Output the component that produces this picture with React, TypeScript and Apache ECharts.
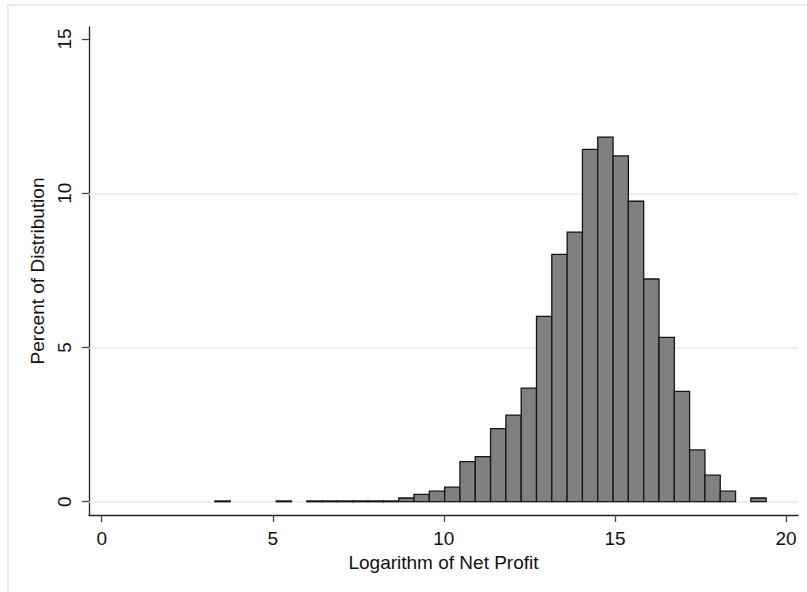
import React, { useEffect, useRef } from "react";
import * as echarts from "echarts";

// Histogram of log net profit (percent per bin)
const binStart = 3.31;
const binWidth = 0.4475;
const percents: number[] = [
  0.025, 0, 0, 0, 0.025, 0, 0.025, 0.025, 0.025, 0.025, 0.025, 0.025,
  0.12, 0.24, 0.34, 0.47, 1.3, 1.46, 2.37, 2.81, 3.68, 6.01, 8.02, 8.74,
  11.42, 11.82, 11.21, 9.74, 7.22, 5.33, 3.58, 1.68, 0.86, 0.34, 0, 0.12,
];
const xTicks: number[] = [0, 5, 10, 15, 20];
const yTicks: number[] = [0, 5, 10, 15];
const yGridLines: number[] = [0, 5, 10];
const xName = "Logarithm of Net Profit";
const yName = "Percent of Distribution";

export default function App() {
  const ref = useRef<HTMLDivElement>(null);
  useEffect(() => {
    if (!ref.current) return;
    const chart = echarts.init(ref.current, null, { renderer: "svg" });
    const data: number[][] = [];
    percents.forEach((p, i) => {
      if (p > 0) data.push([binStart + i * binWidth, binStart + (i + 1) * binWidth, p]);
    });
    const font = "'Liberation Sans', Arial, sans-serif";
    chart.setOption({
      animation: false,
      backgroundColor: "#ffffff",
      graphic: [
        {
          type: "rect",
          shape: { x: 8, y: 5, width: 900, height: 700 },
          style: { fill: "none", stroke: "#ececec", lineWidth: 2 },
          silent: true,
        },
      ],
      grid: { left: 89, right: 9, top: 27, bottom: 77, containLabel: false },
      xAxis: {
        type: "value",
        min: -0.371,
        max: 20.35,
        name: xName,
        nameLocation: "middle",
        nameGap: 32,
        nameTextStyle: { fontFamily: font, fontSize: 19, color: "#111", verticalAlign: "top" },
        axisLine: { show: true, onZero: false, lineStyle: { color: "#222", width: 1.3 } },
        axisTick: { show: true, length: 7, customValues: xTicks, lineStyle: { color: "#444", width: 1.3 } },
        axisLabel: { customValues: xTicks, fontFamily: font, fontSize: 19, color: "#111", margin: 14 },
        splitLine: { show: false },
      },
      yAxis: {
        type: "value",
        min: -0.431,
        max: 15.39,
        name: yName,
        nameLocation: "middle",
        nameGap: 27,
        nameTextStyle: { fontFamily: font, fontSize: 19, color: "#111" },
        axisLine: { show: true, onZero: false, lineStyle: { color: "#222", width: 1.3 } },
        axisTick: { show: true, length: 7, customValues: yTicks, lineStyle: { color: "#444", width: 1.3 } },
        axisLabel: { customValues: yTicks, rotate: 90, fontFamily: font, fontSize: 19, color: "#111", margin: 15 },
        splitLine: { show: false },
      },
      series: [
        {
          type: "custom",
          z: 2,
          encode: { x: [0, 1], y: 2 },
          data,
          renderItem: (params: any, api: any) => {
            const x0 = api.value(0);
            const x1 = api.value(1);
            const v = api.value(2);
            const p0 = api.coord([x0, v]);
            const p1 = api.coord([x1, 0]);
            return {
              type: "rect",
              shape: { x: p0[0], y: p0[1], width: p1[0] - p0[0], height: p1[1] - p0[1] },
              style: { fill: "#808080", stroke: "#151515", lineWidth: 1.3 },
            };
          },
          markLine: {
            silent: true,
            z: 1,
            symbol: "none",
            label: { show: false },
            lineStyle: { color: "#e8e8e8", width: 1.5, type: "solid" },
            data: yGridLines.map((v) => ({ yAxis: v })),
          },
        },
      ],
    });
    return () => chart.dispose();
  }, []);
  return (
    <div
      ref={ref}
      style={{ position: "fixed", left: 0, top: 0, width: 807, height: 592, background: "#fff" }}
    />
  );
}
